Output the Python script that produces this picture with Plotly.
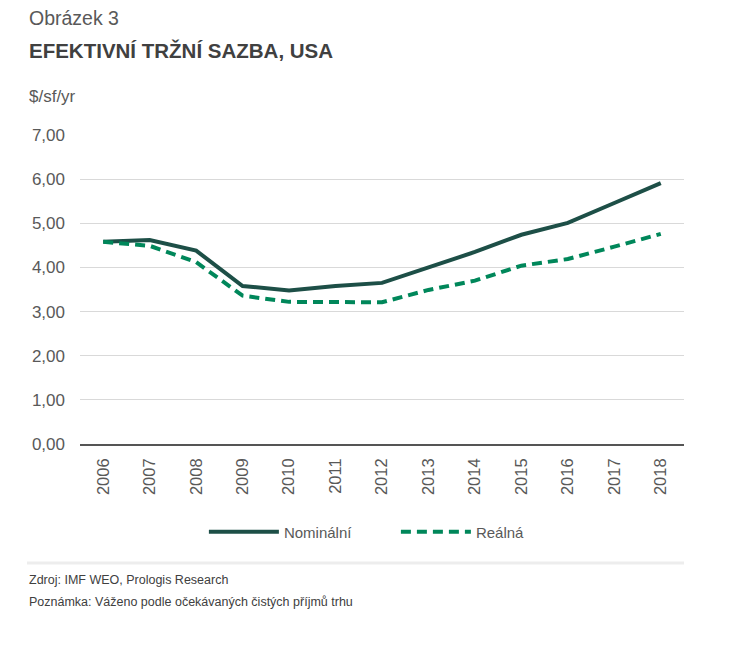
import plotly.graph_objects as go

years = ["2006", "2007", "2008", "2009", "2010", "2011", "2012",
         "2013", "2014", "2015", "2016", "2017", "2018"]
nominal = [4.58, 4.62, 4.38, 3.58, 3.48, 3.58, 3.65, 4.01, 4.35, 4.74, 5.01, 5.46, 5.91]
real = [4.58, 4.49, 4.12, 3.36, 3.22, 3.21, 3.21, 3.49, 3.70, 4.04, 4.19, 4.47, 4.76]
y_ticks = [0, 1, 2, 3, 4, 5, 6, 7]
y_tick_labels = ["0,00", "1,00", "2,00", "3,00", "4,00", "5,00", "6,00", "7,00"]

FONT = "Liberation Sans"
GRAY = "#595959"

fig = go.Figure()
fig.add_trace(go.Scatter(x=years, y=nominal, mode="lines", name="Nominální",
                         line=dict(color="#1d4f47", width=4)))
fig.add_trace(go.Scatter(x=years, y=real, mode="lines", name="Reálná",
                         line=dict(color="#00875a", width=4, dash="10px,6px")))

# page offset of 8px (body margin) is compensated in the margins
L, R, T, B = 72, 77, 127, 223
fig.update_layout(
    width=753, height=659,
    margin=dict(l=L, r=R, t=T, b=B),
    paper_bgcolor="white", plot_bgcolor="white",
    font=dict(family=FONT, color=GRAY, size=15),
    showlegend=True,
    legend=dict(orientation="h", x=0.523, xanchor="center", y=-0.285, yanchor="middle",
                font=dict(size=15, color=GRAY), itemwidth=70, entrywidth=107),
    xaxis=dict(type="category", range=[-0.5, 12.5], tickangle=-90,
               showgrid=False, showline=True, linecolor="#555555", linewidth=1.5,
               ticks="", ticklabelstandoff=6, tickfont=dict(size=16.5, color=GRAY), fixedrange=True),
    yaxis=dict(range=[0, 7], tickvals=y_ticks, ticktext=y_tick_labels,
               showgrid=True, gridcolor="#d9d9d9", gridwidth=1, zeroline=False,
               showline=False, ticks="", ticklabelstandoff=14,
               tickfont=dict(size=17, color=GRAY)),
)

xl = (27 - 80) / 604
def py(ypix):
    return (444 - ypix) / 309

ann = [
    dict(text="Obrázek 3", y=py(18), size=19.5, color=GRAY),
    dict(text="<b>EFEKTIVNÍ TRŽNÍ SAZBA, USA</b>", y=py(50), size=20.5, color="#404040"),
    dict(text="$/sf/yr", y=py(97), size=17, color=GRAY),
    dict(text="Zdroj: IMF WEO, Prologis Research", y=py(580), size=12.5, color="#404040"),
    dict(text="Poznámka: Váženo podle očekávaných čistých příjmů trhu", y=py(602), size=12.5, color="#404040"),
]
for a in ann:
    fig.add_annotation(text=a["text"], xref="paper", yref="paper", x=xl, y=a["y"],
                       xanchor="left", yanchor="middle", showarrow=False,
                       font=dict(family=FONT, size=a["size"], color=a["color"]))

fig.add_shape(type="line", xref="paper", yref="paper", x0=xl, x1=1.0, y0=py(563), y1=py(563),
              line=dict(color="#ededed", width=3))

fig.write_html("out.html")
